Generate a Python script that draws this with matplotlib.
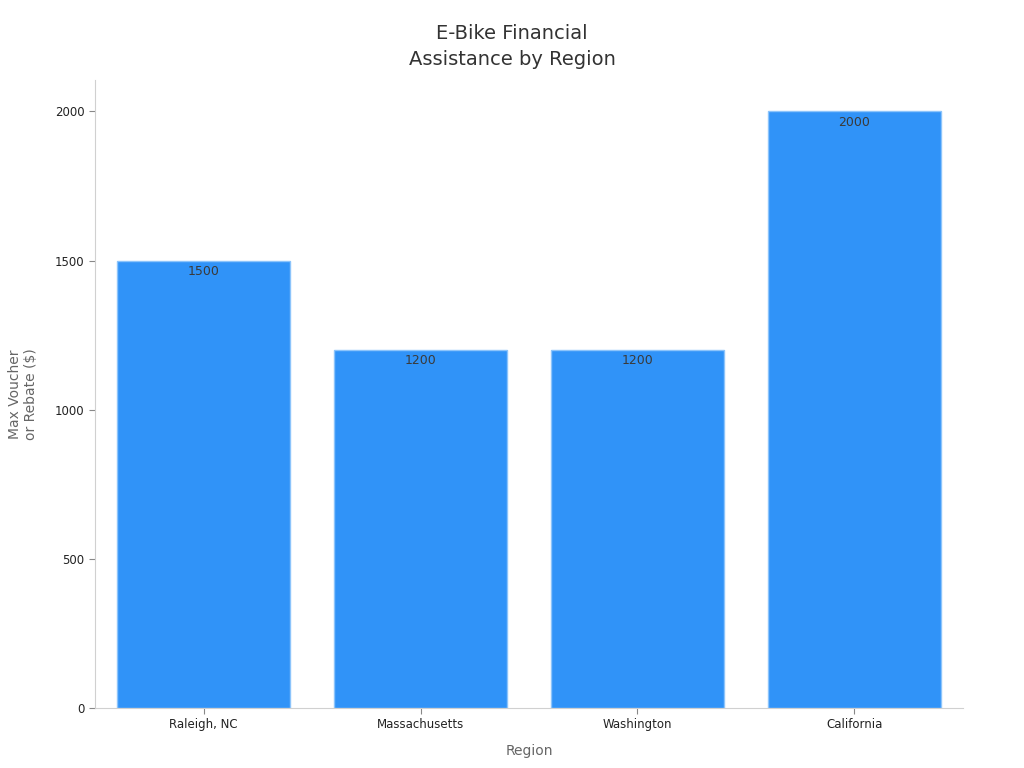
import matplotlib.pyplot as plt

regions = ['Raleigh, NC', 'Massachusetts', 'Washington', 'California']
max_assistance = [1500, 1200, 1200, 2000]

fig = plt.figure(figsize=(10.24, 7.68), dpi=100)
ax = fig.add_axes([0.0928, 0.0781, 0.8476, 0.8177])

bars = ax.bar(regions, max_assistance, width=0.8, color='#3093f8',
              edgecolor='#8cc4fb', linewidth=1)
for b, v in zip(bars, max_assistance):
    ax.text(b.get_x() + b.get_width() / 2, v - 14, str(v), ha='center', va='top',
            fontsize=9, color='#3a3a3a')

ax.set_xlim(-0.5, 3.5)
ax.set_ylim(0, 2105)
ax.set_yticks([0, 500, 1000, 1500, 2000])

fig.text(0.5, 0.91, 'E-Bike Financial\nAssistance by Region', ha='center', va='bottom',
         fontsize=14, color='#333333', linespacing=1.45)
ax.set_xlabel('Region', fontsize=10, color='#666666', labelpad=9)
ax.set_ylabel('Max Voucher\nor Rebate ($)', fontsize=10, color='#666666', labelpad=12)

for s in ['top', 'right']:
    ax.spines[s].set_visible(False)
for s in ['left', 'bottom']:
    ax.spines[s].set_color('#d0d0d0')
ax.tick_params(axis='both', labelsize=8.5, colors='#222222', length=4)
ax.tick_params(axis='both', color='#888888')

fig.savefig('out.png', dpi=100)
